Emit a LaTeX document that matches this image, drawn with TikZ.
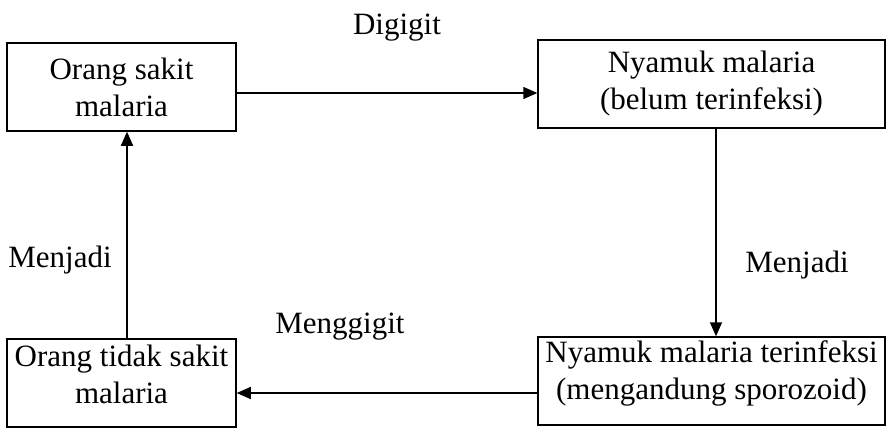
\documentclass[tikz,border=0pt]{standalone}
\usepackage{fontspec}
\setmainfont{Liberation Serif}
\usetikzlibrary{arrows.meta}
\begin{document}
\begin{tikzpicture}[x=1pt,y=-1pt,
  every node/.style={font=\fontsize{31}{37}\selectfont, inner sep=0pt},
  boxnode/.style={draw, line width=1.5pt, align=center},
  smallbox/.style={boxnode, minimum width=229pt, minimum height=88pt},
  bigbox/.style={boxnode, minimum width=347pt, minimum height=88pt},
  txt/.style={align=center},
  arr/.style={line width=1.5pt, -{Triangle[length=14pt,width=12pt]}}]
\useasboundingbox (0,0) rectangle (889,432);
\node[smallbox] (b1) at (121.5,87) {Orang sakit\\malaria};
\node[bigbox] (b2) at (711.5,84) {Nyamuk malaria\\(belum terinfeksi)};
\node[bigbox] (b3) at (711.5,381) {};
\node[smallbox] (b4) at (121.5,383) {};
\node[txt] (t3) at (711.5,373) {Nyamuk malaria terinfeksi\\(mengandung sporozoid)};
\node[txt] (t4) at (121.5,374) {Orang tidak sakit\\malaria};
\draw[arr] ([yshift=-6pt]b1.east) -- ([yshift=-6pt]b1.east -| b2.west);
\draw[arr] ([xshift=4.5pt]b2.south) -- ([xshift=4.5pt]b3.north);
\draw[arr] ([yshift=-12pt]b3.west) -- ([yshift=-12pt]b3.west -| b4.east);
\draw[arr] ([xshift=5.5pt]b4.north) -- ([xshift=5.5pt]b4.north |- b1.south);
\node (l1) at (397,28) {Digigit};
\node (l2) at (797,265) {Menjadi};
\node (l3) at (340,327) {Menggigit};
\node (l4) at (60,260) {Menjadi};
\end{tikzpicture}
\end{document}
